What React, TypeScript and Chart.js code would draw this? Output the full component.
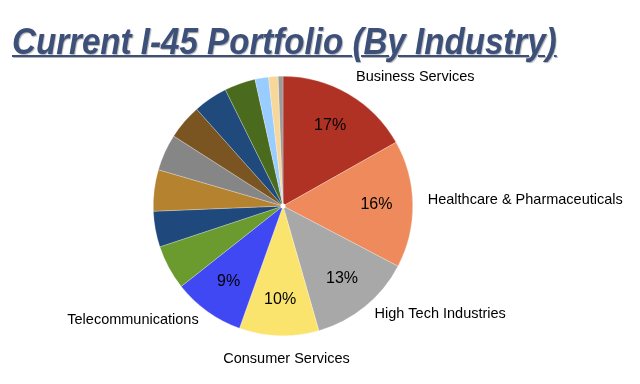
import React, { useEffect, useRef } from "react";
import { Chart, registerables } from "chart.js";

Chart.register(...registerables);

const TITLE = "Current I-45 Portfolio (By Industry)";

const categories = [
  "Business Services",
  "Healthcare & Pharmaceuticals",
  "High Tech Industries",
  "Consumer Services",
  "Telecommunications",
  "", "", "", "", "", "", "", "", "", "",
];

const shares = [17, 16, 13, 10, 9, 5.6, 4.5, 5.2, 4.6, 4.4, 4.3, 3.9, 1.7, 1.2, 0.6];

const percentLabels = ["17%", "16%", "13%", "10%", "9%", "", "", "", "", "", "", "", "", "", ""];

const sliceColors = [
  "#B03224", "#EE8A5C", "#A8A8A8", "#FBE46E", "#4048F4",
  "#6B9A2E", "#1F497D", "#B5832F", "#868686", "#7B5521",
  "#1F4A7B", "#4A6A1E", "#99CCFF", "#F8D79A", "#9A9A9A",
];

const labelPlugin = {
  id: "sliceLabels",
  afterDatasetsDraw(chart: any) {
    const ctx = chart.ctx;
    const meta = chart.getDatasetMeta(0);
    ctx.save();
    ctx.fillStyle = "#000";
    meta.data.forEach((arc: any, i: number) => {
      const { x, y, startAngle, endAngle, outerRadius } = arc.getProps(
        ["x", "y", "startAngle", "endAngle", "outerRadius"],
        true
      );
      const mid = (startAngle + endAngle) / 2;
      const c = Math.cos(mid);
      const s = Math.sin(mid);
      if (percentLabels[i]) {
        ctx.font = "16px 'Liberation Sans', Arial, sans-serif";
        ctx.textAlign = "center";
        ctx.textBaseline = "middle";
        const rr = outerRadius * 0.72;
        ctx.fillText(percentLabels[i], x + c * rr, y + s * rr);
      }
      if (categories[i]) {
        ctx.font = "14.5px 'Liberation Sans', Arial, sans-serif";
        ctx.textBaseline = "middle";
        const ro = outerRadius + 15;
        let px = x + c * ro;
        let py = y + s * ro - 4;
        if (Math.abs(c) < 0.3) {
          ctx.textAlign = "center";
          py += s > 0 ? 12 : -8;
          px += 8;
        } else if (c > 0) {
          ctx.textAlign = "left";
        } else {
          ctx.textAlign = "right";
        }
        ctx.fillText(categories[i], px, py);
      }
    });
    const a0 = meta.data[0];
    if (a0) {
      ctx.beginPath();
      ctx.fillStyle = "#fff";
      ctx.arc(a0.x, a0.y, 2.5, 0, Math.PI * 2);
      ctx.fill();
    }
    ctx.restore();
  },
};

export default function App() {
  const ref = useRef<HTMLCanvasElement | null>(null);

  useEffect(() => {
    if (!ref.current) return;
    const chart = new Chart(ref.current, {
      type: "pie",
      data: {
        labels: categories,
        datasets: [
          {
            data: shares,
            backgroundColor: sliceColors,
            borderColor: "rgba(255,255,255,0.5)",
            borderWidth: 0.5,
          },
        ],
      },
      options: {
        animation: false,
        responsive: false,
        maintainAspectRatio: false,
        layout: { padding: { left: 153, right: 227, top: 76, bottom: 48 } },
        plugins: {
          legend: { display: false },
          tooltip: { enabled: false },
          title: { display: false },
        },
      },
      plugins: [labelPlugin],
    });
    return () => chart.destroy();
  }, []);

  return (
    <div
      style={{
        position: "fixed",
        left: 0,
        top: 0,
        width: 640,
        height: 384,
        background: "#fff",
        overflow: "hidden",
      }}
    >
      <canvas
        ref={ref}
        width={640}
        height={384}
        style={{ position: "absolute", left: 0, top: 0, width: 640, height: 384 }}
      />
      <div
        style={{
          position: "absolute",
          left: 12,
          top: 24,
          fontFamily: "'Liberation Sans', Arial, sans-serif",
          fontWeight: "bold",
          fontStyle: "italic",
          fontSize: 36,
          lineHeight: 1,
          color: "#3D5079",
          textDecoration: "underline",
          textDecorationThickness: 2,
          textShadow: "1px 1px 1px rgba(0,0,0,0.3)",
          whiteSpace: "nowrap",
          transform: "scaleX(0.92)",
          transformOrigin: "left top",
        }}
      >
        {TITLE}
      </div>
    </div>
  );
}
